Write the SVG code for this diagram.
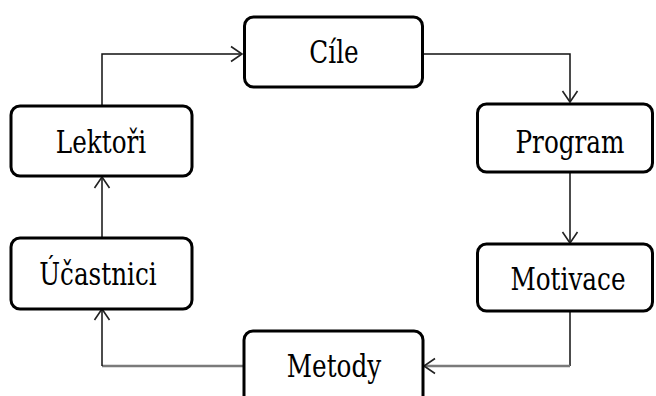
<svg xmlns="http://www.w3.org/2000/svg" width="656" height="396" viewBox="0 0 656 396">
<defs>
<style>
.box{fill:#fff;stroke:#000;stroke-width:3}
.lbl{font-family:"DejaVu Serif",serif;font-size:26px;fill:#000;text-anchor:middle}
.ln{fill:none;stroke:#111;stroke-width:1.5}
.gl{fill:none;stroke:#7a7a7a;stroke-width:2.6}
</style>
<marker id="ah" markerUnits="userSpaceOnUse" markerWidth="24" markerHeight="24" viewBox="-12 -12 24 24" refX="0" refY="0" orient="auto">
<path d="M-11,-7.5 L0,0 L-11,7.5" fill="none" stroke="#222" stroke-width="1.6"/>
</marker>
</defs>
<rect width="656" height="396" fill="#fff"/>
<g id="connectors">
<path class="ln" d="M102,106 V54 H242" marker-end="url(#ah)"/>
<path class="ln" d="M423,54 H570 V102" marker-end="url(#ah)"/>
<path class="ln" d="M570,172 V243" marker-end="url(#ah)"/>
<path class="ln" d="M570,311 V366"/>
<path class="gl" d="M570,366 H424" marker-end="url(#ah)"/>
<path class="gl" d="M243,366 H102"/>
<path class="ln" d="M102,366 V309" marker-end="url(#ah)"/>
<path class="ln" d="M102,238 V177" marker-end="url(#ah)"/>
</g>
<g id="cile">
<rect class="box" x="244.5" y="17" width="178" height="70" rx="9"/>
<text class="lbl" transform="translate(334,63) scale(0.95,1.24)">Cíle</text>
</g>
<g id="program">
<rect class="box" x="477.5" y="104" width="175" height="68" rx="9"/>
<text class="lbl" transform="translate(570,153) scale(0.95,1.24)">Program</text>
</g>
<g id="motivace">
<rect class="box" x="477.5" y="244" width="175" height="67" rx="9"/>
<text class="lbl" transform="translate(568,290) scale(0.95,1.24)">Motivace</text>
</g>
<g id="metody">
<rect class="box" x="244" y="331" width="179" height="80" rx="9"/>
<text class="lbl" transform="translate(334,377) scale(0.95,1.24)">Metody</text>
</g>
<g id="ucastnici">
<rect class="box" x="11" y="238" width="181" height="71" rx="9"/>
<text class="lbl" transform="translate(98,285) scale(0.95,1.24)">Účastnici</text>
</g>
<g id="lektori">
<rect class="box" x="11" y="106" width="181" height="70" rx="9"/>
<text class="lbl" transform="translate(101,153) scale(0.95,1.24)">Lektoři</text>
</g>
</svg>
